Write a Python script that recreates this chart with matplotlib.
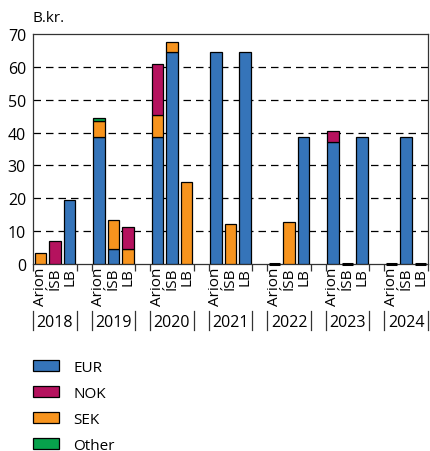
import matplotlib
matplotlib.use("Agg")
import matplotlib.pyplot as plt
import matplotlib.transforms as mtransforms
from matplotlib.patches import Patch
import numpy as np

plt.rcParams['font.family'] = ['Open Sans', 'DejaVu Sans']

years = ['2018', '2019', '2020', '2021', '2022', '2023', '2024']
banks = ['Arion', 'ÍSB', 'LB']

# values per bank, one entry per year (B.kr.)
eur = {'Arion': [0, 38.7, 38.7, 64.5, 0, 37.0, 0],
       'ÍSB':   [0, 4.5, 64.5, 0, 0, 0, 38.7],
       'LB':    [19.5, 0, 0, 64.5, 38.7, 38.7, 0]}
sek = {'Arion': [3.3, 4.7, 6.8, 0, 0, 0, 0],
       'ÍSB':   [0, 8.8, 3.1, 12.1, 12.7, 0, 0],
       'LB':    [0, 4.5, 25.0, 0, 0, 0, 0]}
nok = {'Arion': [0, 0, 15.4, 0, 0, 3.4, 0],
       'ÍSB':   [6.9, 0, 0, 0, 0, 0, 0],
       'LB':    [0, 6.8, 0, 0, 0, 0, 0]}
other = {'Arion': [0, 1.0, 0, 0, 0, 0, 0],
         'ÍSB':   [0, 0, 0, 0, 0, 0, 0],
         'LB':    [0, 0, 0, 0, 0, 0, 0]}

colors = {'EUR': '#3574b9', 'NOK': '#b5125e', 'SEK': '#f7941e', 'Other': '#07a24c'}

fig = plt.figure(figsize=(4.31, 4.52), dpi=100)
ax = fig.add_axes([33/431, 1-265/452, 395/431, 230/452])

w = 0.78
xs, xlabels = [], []
for g in range(len(years)):
    for b, bank in enumerate(banks):
        x = 4*g + b
        xs.append(x)
        xlabels.append(bank)
        bottom = 0
        for name, d in [('EUR', eur), ('SEK', sek), ('NOK', nok), ('Other', other)]:
            v = d[bank][g]
            if v > 0:
                ax.bar(x, v, w, bottom=bottom, color=colors[name],
                       edgecolor='black', linewidth=0.9, zorder=3)
            bottom += v
        if bottom == 0:
            # empty bar: drawn as a flat black line on the axis
            ax.hlines(0, x - w/2, x + w/2, color='black', linewidth=2.2,
                      zorder=4, clip_on=False)

ax.set_xlim(-0.5, 26.5)
ax.set_ylim(0, 70)
ax.set_yticks(np.arange(0, 71, 10))
ax.tick_params(axis='y', length=0, labelsize=11.5, pad=5)
ax.set_xticks(xs)
ax.set_xticklabels(xlabels, rotation=90, fontsize=11)
ax.tick_params(axis='x', which='major', length=0, pad=2)
edges = []
for g in range(len(years)):
    edges += [4*g - 0.5, 4*g + 2.5]
ax.set_xticks(edges, minor=True)
ax.tick_params(axis='x', which='minor', length=5, width=0.9, color='#333333')

for y in range(10, 70, 10):
    ax.axhline(y, color='black', linestyle=(0, (6, 4)), linewidth=0.9, zorder=1)
for s in ax.spines.values():
    s.set_color('#333333')
    s.set_linewidth(0.9)

fig.text(33/431, 1-19/452, 'B.kr.', fontsize=11, ha='left', va='center')

trans = mtransforms.blended_transform_factory(ax.transData, fig.transFigure)
for g, yr in enumerate(years):
    ax.text(4*g + 1, 1-323/452, yr, transform=trans, ha='center', va='center', fontsize=11.5)
    for xe in [4*g - 0.48, 4*g + 2.48]:
        ax.plot([xe, xe], [1-312/452, 1-331/452], transform=trans, color='#333333',
                linewidth=0.9, clip_on=False)

handles = [Patch(facecolor=colors[k], edgecolor='black', linewidth=0.9, label=k)
           for k in ['EUR', 'NOK', 'SEK', 'Other']]
fig.legend(handles=handles, loc='upper left', bbox_to_anchor=(19/431, 1-347/452),
           frameon=False, fontsize=11, handlelength=1.75, handleheight=0.7,
           handletextpad=0.9, labelspacing=0.72)

fig.savefig('out.png', dpi=100)
